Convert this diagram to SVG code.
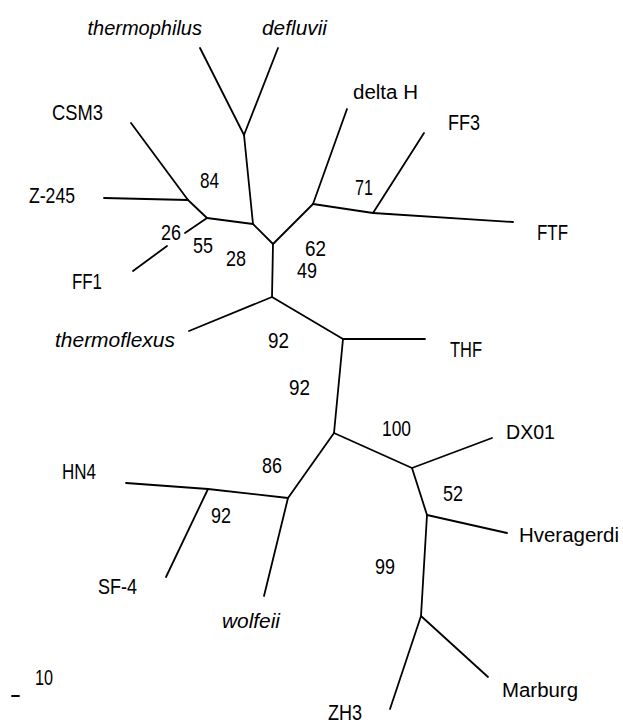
<svg xmlns="http://www.w3.org/2000/svg" width="623" height="726" viewBox="0 0 623 726">
<style>
.e{stroke:#000;stroke-width:1.8;fill:none;stroke-linecap:round;stroke-linejoin:round}
.n{font-family:"Liberation Sans",Arial,sans-serif;font-size:20px;fill:#000}
.i{font-family:"Liberation Sans",Arial,sans-serif;font-size:20px;font-style:italic;fill:#000}
.c{font-family:"Liberation Sans",Arial,sans-serif;font-size:22px;fill:#000}
</style>
<rect width="623" height="726" fill="#fff"/>
<g id="connectors">
<path class="e" d="M200,48 L244,135 L278,48"/>
<path class="e" d="M244,135 L253,224"/>
<path class="e" d="M131,123 L188,200 L207,218"/>
<path class="e" d="M104,198 L188,200"/>
<path class="e" d="M207,218 L185,233"/>
<path class="e" d="M167,246 L133,271"/>
<path class="e" d="M207,218 L253,224 L273,244"/>
<path class="e" d="M273,244 L313,204 L347,109"/>
<path class="e" d="M313,204 L373,213 L424,133"/>
<path class="e" d="M373,213 L513,222"/>
<path class="e" d="M273,244 L272,297"/>
<path class="e" d="M189,331 L272,297 L343,339 L425,339"/>
<path class="e" d="M343,339 L334,433"/>
<path class="e" d="M334,433 L412,468 L492,438"/>
<path class="e" d="M412,468 L427,515 L507,533"/>
<path class="e" d="M427,515 L421,616"/>
<path class="e" d="M390,709 L421,616 L488,677"/>
<path class="e" d="M334,433 L288,498 L264,596"/>
<path class="e" d="M288,498 L208,489 L126,483"/>
<path class="e" d="M208,489 L166,577"/>
<path class="e" d="M12,696 L19,696"/>
</g>
<g id="leaves">
<g id="thermophilus"><text class="i" x="202" y="35" text-anchor="end">thermophilus</text></g>
<g id="defluvii"><text class="i" x="262" y="35" textLength="65" lengthAdjust="spacingAndGlyphs">defluvii</text></g>
<g id="deltaH"><text class="n" x="353" y="99" textLength="65" lengthAdjust="spacingAndGlyphs">delta H</text></g>
<g id="FF3"><text class="c" x="448" y="130" textLength="32" lengthAdjust="spacingAndGlyphs">FF3</text></g>
<g id="CSM3"><text class="c" x="52" y="120" textLength="51" lengthAdjust="spacingAndGlyphs">CSM3</text></g>
<g id="Z-245"><text class="c" x="29" y="203" textLength="46" lengthAdjust="spacingAndGlyphs">Z-245</text></g>
<g id="FTF"><text class="c" x="537" y="240" textLength="31" lengthAdjust="spacingAndGlyphs">FTF</text></g>
<g id="FF1"><text class="c" x="72" y="289" textLength="30" lengthAdjust="spacingAndGlyphs">FF1</text></g>
<g id="thermoflexus"><text class="i" x="55" y="347" textLength="120" lengthAdjust="spacingAndGlyphs">thermoflexus</text></g>
<g id="THF"><text class="c" x="450" y="357" textLength="32" lengthAdjust="spacingAndGlyphs">THF</text></g>
<g id="DX01"><text class="n" x="506" y="439" textLength="49" lengthAdjust="spacingAndGlyphs">DX01</text></g>
<g id="HN4"><text class="c" x="62" y="479" textLength="34" lengthAdjust="spacingAndGlyphs">HN4</text></g>
<g id="Hveragerdi"><text class="n" x="519" y="542" textLength="100" lengthAdjust="spacingAndGlyphs">Hveragerdi</text></g>
<g id="SF-4"><text class="c" x="98" y="594" textLength="39" lengthAdjust="spacingAndGlyphs">SF-4</text></g>
<g id="wolfeii"><text class="i" x="222" y="628" textLength="58" lengthAdjust="spacingAndGlyphs">wolfeii</text></g>
<g id="Marburg"><text class="n" x="502" y="697" textLength="76" lengthAdjust="spacingAndGlyphs">Marburg</text></g>
<g id="ZH3"><text class="c" x="328" y="720" textLength="34" lengthAdjust="spacingAndGlyphs">ZH3</text></g>
</g>
<g id="support">
<text class="c" x="200" y="188" textLength="19" lengthAdjust="spacingAndGlyphs">84</text>
<text class="c" x="355" y="195" textLength="18" lengthAdjust="spacingAndGlyphs">71</text>
<text class="c" x="161" y="240" textLength="20" lengthAdjust="spacingAndGlyphs">26</text>
<text class="c" x="193" y="253" textLength="20" lengthAdjust="spacingAndGlyphs">55</text>
<text class="c" x="226" y="266" textLength="20" lengthAdjust="spacingAndGlyphs">28</text>
<text class="c" x="305" y="256" textLength="21" lengthAdjust="spacingAndGlyphs">62</text>
<text class="c" x="297" y="278" textLength="20" lengthAdjust="spacingAndGlyphs">49</text>
<text class="c" x="268" y="348" textLength="21" lengthAdjust="spacingAndGlyphs">92</text>
<text class="c" x="289" y="395" textLength="21" lengthAdjust="spacingAndGlyphs">92</text>
<text class="c" x="382" y="436" textLength="29" lengthAdjust="spacingAndGlyphs">100</text>
<text class="c" x="262" y="473" textLength="20" lengthAdjust="spacingAndGlyphs">86</text>
<text class="c" x="211" y="523" textLength="20" lengthAdjust="spacingAndGlyphs">92</text>
<text class="c" x="443" y="501" textLength="20" lengthAdjust="spacingAndGlyphs">52</text>
<text class="c" x="375" y="574" textLength="20" lengthAdjust="spacingAndGlyphs">99</text>
<text class="c" x="35" y="685" textLength="18" lengthAdjust="spacingAndGlyphs">10</text>
</g>
</svg>
